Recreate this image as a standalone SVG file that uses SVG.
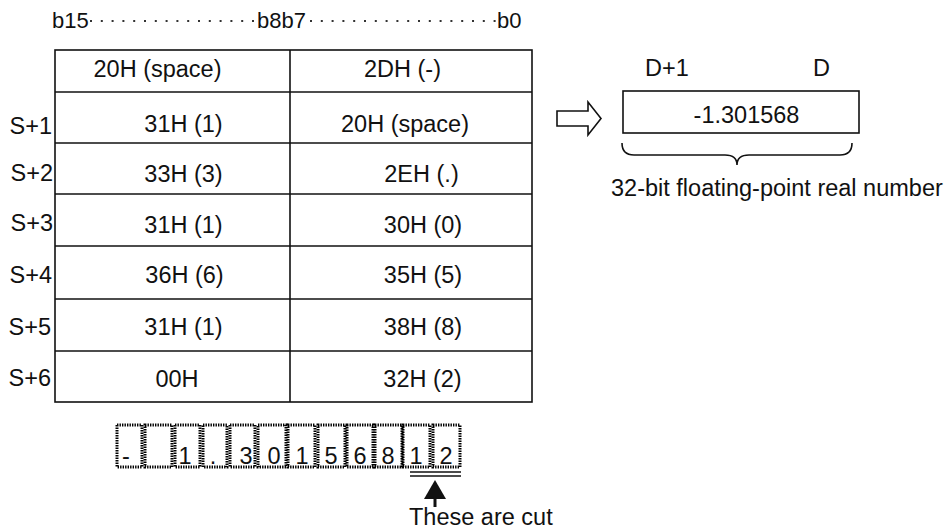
<svg xmlns="http://www.w3.org/2000/svg" width="947" height="529" viewBox="0 0 947 529">
<style>
text{font-family:"Liberation Sans",Arial,sans-serif;font-size:23.5px;fill:#111}
.c{text-anchor:middle}
.e{text-anchor:end}
.ln{stroke:#111;stroke-width:1.6;fill:none}
.dots{stroke:#333;stroke-width:2;stroke-dasharray:2 8.8;fill:none}
.db{stroke:#000;stroke-width:3;stroke-dasharray:1.4 1.1;fill:none}
</style>
<rect width="947" height="529" fill="#fff"/>
<g id="bitlabels">
<text x="52" y="28" style="font-size:22px">b15</text>
<text x="257" y="28" style="font-size:22px">b8b7</text>
<text x="497" y="28" style="font-size:22px">b0</text>
<line class="dots" x1="90" y1="21" x2="255" y2="21"/>
<line class="dots" x1="310" y1="21" x2="497" y2="21"/>
</g>
<g id="table">
<rect class="ln" x="55" y="50" width="477" height="352"/>
<line class="ln" x1="290" y1="50" x2="290" y2="402"/>
<line class="ln" x1="55" y1="92" x2="532" y2="92"/>
<line class="ln" x1="55" y1="143" x2="532" y2="143"/>
<line class="ln" x1="55" y1="194" x2="532" y2="194"/>
<line class="ln" x1="55" y1="246" x2="532" y2="246"/>
<line class="ln" x1="55" y1="299" x2="532" y2="299"/>
<line class="ln" x1="55" y1="351" x2="532" y2="351"/>
<text class="c" x="157.5" y="77">20H (space)</text>
<text class="c" x="402.5" y="77">2DH (-)</text>
<text class="c" x="183.5" y="132">31H (1)</text>
<text class="c" x="405" y="132">20H (space)</text>
<text class="c" x="183.5" y="182">33H (3)</text>
<text class="c" x="421.5" y="182">2EH (.)</text>
<text class="c" x="183.5" y="233">31H (1)</text>
<text class="c" x="423" y="233">30H (0)</text>
<text class="c" x="184.5" y="283">36H (6)</text>
<text class="c" x="423" y="283">35H (5)</text>
<text class="c" x="183.5" y="335">31H (1)</text>
<text class="c" x="423" y="335">38H (8)</text>
<text class="c" x="177" y="387">00H</text>
<text class="c" x="422.5" y="387">32H (2)</text>
</g>
<g id="rowlabels">
<text class="e" x="52" y="134">S+1</text>
<text class="e" x="53" y="181">S+2</text>
<text class="e" x="53" y="231">S+3</text>
<text class="e" x="52" y="283">S+4</text>
<text class="e" x="51" y="335">S+5</text>
<text class="e" x="51" y="386">S+6</text>
</g>
<g id="result">
<text x="645" y="76">D+1</text>
<text x="813" y="76">D</text>
<rect class="ln" x="623" y="91" width="236" height="42"/>
<text class="c" x="746.5" y="123">-1.301568</text>
<path class="ln" d="M622,143 Q622,155 634,155 L725,155 Q737,155 737,165 Q737,155 749,155 L840,155 Q852,155 852,143"/>
<text x="611" y="196">32-bit floating-point real number</text>
</g>
<g id="connectors">
<polygon class="ln" points="557,111 588,111 588,102 601,118.5 588,135 588,126 557,126"/>
<line class="ln" x1="410" y1="472" x2="461" y2="472"/>
<line class="ln" x1="410" y1="476" x2="461" y2="476"/>
<polygon points="435,480 446,499 424,499" fill="#111"/>
<line x1="435" y1="497" x2="435" y2="507" stroke="#111" stroke-width="3"/>
</g>
<g id="chars">
<rect class="db" x="117" y="425" width="25" height="42"/>
<rect class="db" x="145" y="425" width="27" height="42"/>
<rect class="db" x="175" y="425" width="25" height="42"/>
<rect class="db" x="203" y="425" width="24" height="42"/>
<rect class="db" x="230" y="425" width="25" height="42"/>
<rect class="db" x="258" y="425" width="28" height="42"/>
<rect class="db" x="288" y="425" width="27" height="42"/>
<rect class="db" x="318" y="425" width="27" height="42"/>
<rect class="db" x="347" y="425" width="26" height="42"/>
<rect class="db" x="375" y="425" width="27" height="42"/>
<rect class="db" x="403" y="425" width="27" height="42"/>
<rect class="db" x="433" y="425" width="27" height="42"/>
<text class="c" x="126" y="464">-</text>
<text class="c" x="185" y="464">1</text>
<text class="c" x="213" y="464">.</text>
<text class="c" x="246" y="464">3</text>
<text class="c" x="274" y="464">0</text>
<text class="c" x="302" y="464">1</text>
<text class="c" x="331" y="464">5</text>
<text class="c" x="360" y="464">6</text>
<text class="c" x="388" y="464">8</text>
<text class="c" x="416" y="464">1</text>
<text class="c" x="446" y="464">2</text>
</g>
<g id="note">
<text x="409" y="525">These are cut</text>
</g>
</svg>
